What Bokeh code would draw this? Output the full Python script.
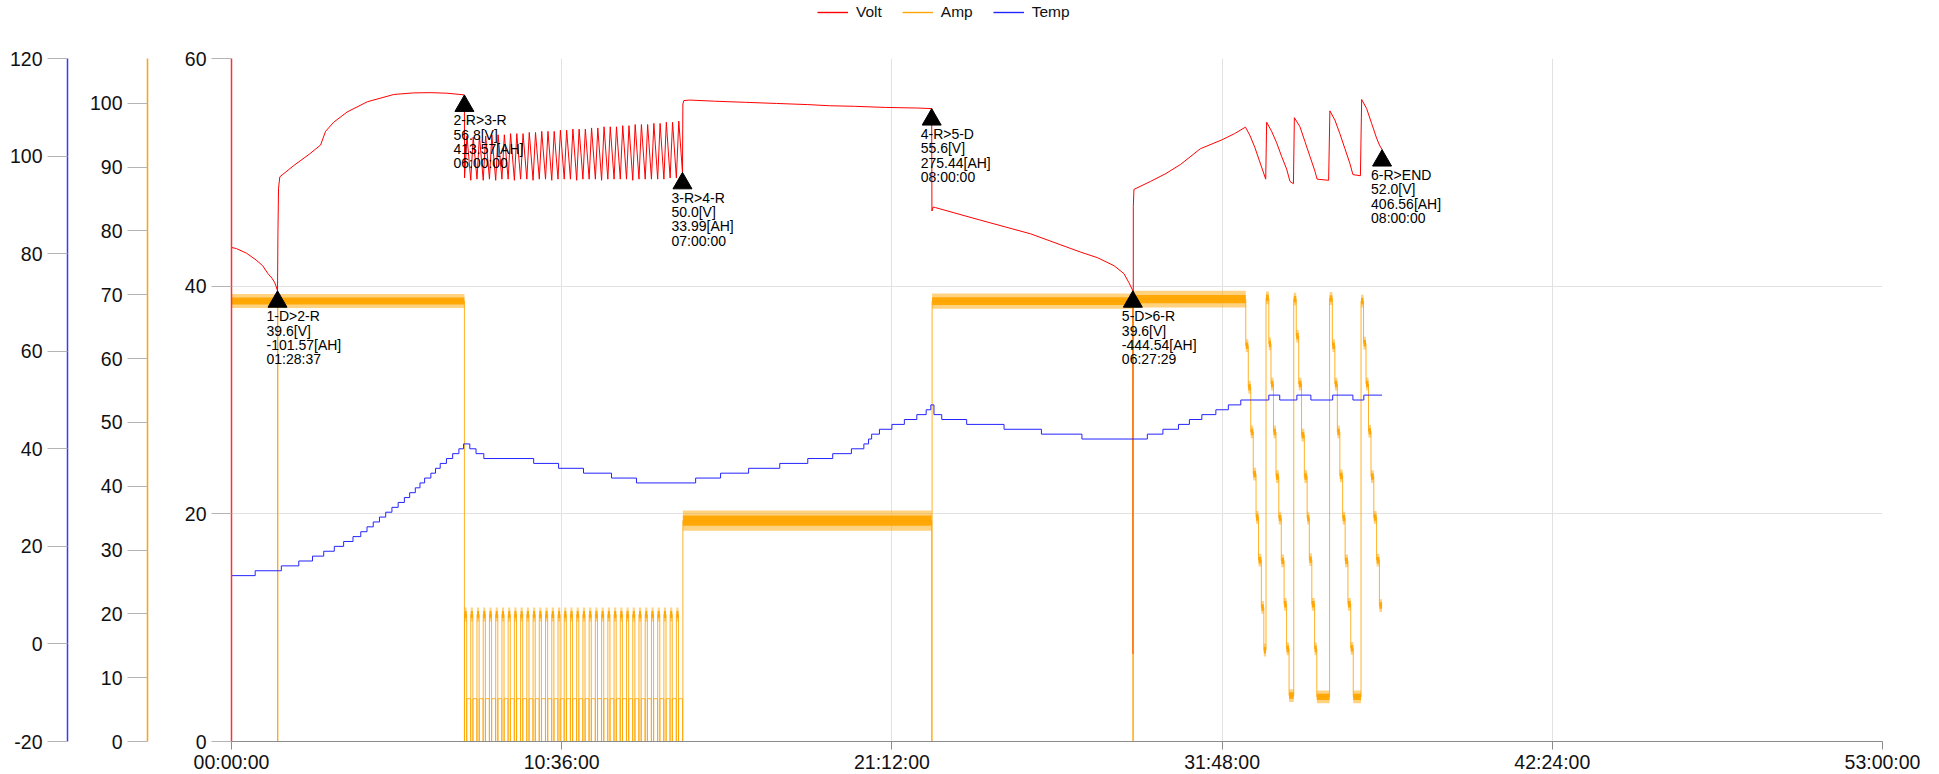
import numpy as np
from bokeh.plotting import figure
from bokeh.layouts import column
from bokeh.models import (Range1d, LinearAxis, FixedTicker, CustomJSTickFormatter,
                          Legend, LegendItem)
from bokeh.embed import file_html
from bokeh.resources import INLINE
from bokeh.core.properties import value

# ---------------- data ----------------
step_names = ["1-D>2-R", "2-R>3-R", "3-R>4-R", "4-R>5-D", "5-D>6-R", "6-R>END"]
step_volts = [39.6, 56.8, 50.0, 55.6, 39.6, 52.0]
step_ah = [-101.57, 413.57, 33.99, 275.44, -444.54, 406.56]
step_durations = ["01:28:37", "06:00:00", "07:00:00", "08:00:00", "06:27:29", "08:00:00"]

x_ticks_h = [0, 10.6, 21.2, 31.8, 42.4, 53.0]
volt_ticks = [0, 20, 40, 60]
amp_ticks = [0, 10, 20, 30, 40, 50, 60, 70, 80, 90, 100]
temp_ticks = [-20, 0, 20, 40, 60, 80, 100, 120]

series_names = ["Volt", "Amp", "Temp"]
series_colors = ["#ff0000", "#ffa500", "#2424ff"]

# Volt: discharge 1 + charge 2 (hours, volts)
volt_t_a = [0.00, 0.16, 0.48, 0.79, 1.00, 1.17, 1.30, 1.38, 1.43, 1.477,
            1.49, 1.51, 1.55, 2.00, 2.50, 2.86, 3.02, 3.28, 3.71, 4.36, 5.21, 5.85, 6.40, 6.92, 7.30, 7.477]
volt_v_a = [43.4, 43.3, 42.9, 42.3, 41.8, 41.1, 40.7, 40.35, 40.0, 39.6,
            44.5, 48.6, 49.6, 50.6, 51.6, 52.4, 53.6, 54.4, 55.3, 56.2, 56.84, 56.98, 57.0, 56.95, 56.85, 56.8]

# Pulse step 3: 35 cycles of 12 min
pulse_period_h = 0.2
pulse_high_h = 0.072
pulse_peak_v = [53.2, 53.1, 53.2, 53.2, 53.3, 53.3, 53.3, 53.4, 53.4, 53.4, 53.5, 53.5, 53.6, 53.6, 53.6,
                53.7, 53.7, 53.8, 53.8, 53.8, 53.9, 53.9, 54.0, 54.0, 54.0, 54.1, 54.1, 54.2, 54.2, 54.2,
                54.3, 54.3, 54.4, 54.4, 54.5]
pulse_trough_v = [49.5, 49.3, 49.4, 49.3, 49.4, 49.3, 49.4, 49.4, 49.3, 49.4, 49.4, 49.3, 49.4, 49.4, 49.3,
                  49.4, 49.4, 49.4, 49.3, 49.4, 49.4, 49.4, 49.3, 49.4, 49.4, 49.4, 49.4, 49.3, 49.4, 49.4,
                  49.4, 49.4, 49.4, 49.5, 49.5]
pulse_high_a = 19.9
pulse_low_a = 6.7

# Volt: steps 4..6
volt_t_b = [14.49, 14.52, 14.70, 15.50, 16.50, 17.50, 18.50, 19.20, 20.00, 21.00, 22.00, 22.477,
            22.485, 22.52, 22.60, 24.04, 25.65, 27.25, 27.80, 28.33, 28.65, 28.81, 28.935,
            28.94, 28.95, 28.97, 29.50, 30.00, 30.47, 31.10, 31.80, 32.20, 32.55,
            32.70, 32.85, 33.00, 33.10, 33.20, 33.23,
            33.39, 33.55, 33.71, 33.87, 33.98, 34.09, 34.12,
            34.30, 34.46, 34.62, 34.78, 34.85, 35.22, 35.26,
            35.42, 35.58, 35.74, 35.90, 36.00, 36.24, 36.28,
            36.44, 36.60, 36.76, 36.85, 36.935]
volt_v_b = [56.0, 56.3, 56.35, 56.25, 56.15, 56.05, 55.95, 55.85, 55.8, 55.7, 55.65, 55.6,
            46.6, 46.95, 46.9, 45.8, 44.6, 43.0, 42.5, 41.8, 41.1, 40.3, 39.6,
            7.7, 47.0, 48.5, 49.2, 49.9, 50.7, 52.07, 52.86, 53.4, 53.97,
            53.2, 52.2, 51.0, 50.2, 49.4, 54.4,
            53.6, 52.6, 51.4, 50.3, 49.2, 49.0, 54.8,
            54.0, 52.7, 51.4, 50.1, 49.4, 49.3, 55.4,
            54.6, 53.4, 52.1, 50.8, 49.8, 49.7, 56.4,
            55.6, 54.3, 53.0, 52.4, 52.0]

# Amp (step function, level holds until next point)
amp_t_a = [0.0, 1.477, 1.49, 7.477]
amp_v_a = [69.0, 0.0, 69.0, 0.0]
amp_t_b = [14.477, 14.49, 22.477, 22.49, 28.935, 28.95]
amp_v_b = [0.0, 34.6, 0.0, 69.0, 0.0, 69.3]
# staircase current at the end of step 6
sc_t = [32.56, 32.64, 32.72, 32.80, 32.89, 32.97, 33.06, 33.14, 33.21,
        33.30, 33.37, 33.45, 33.53, 33.62, 33.70, 33.79, 33.87, 33.95, 34.10,
        34.18, 34.26, 34.35, 34.44, 34.53, 34.60, 34.68, 34.77, 34.84, 35.25,
        35.34, 35.42, 35.50, 35.58, 35.67, 35.75, 35.84, 35.93, 36.01, 36.26,
        36.34, 36.42, 36.50, 36.58, 36.67, 36.76, 36.85, 36.935]
sc_a = [62.0, 55.5, 48.5, 41.9, 35.1, 28.4, 21.0, 14.3, 69.5,
        62.3, 56.0, 48.5, 41.5, 35.0, 28.3, 21.5, 14.5, 7.2, 69.3,
        63.5, 56.0, 48.0, 41.5, 35.0, 28.5, 21.5, 14.5, 7.0, 69.4,
        62.0, 56.0, 48.5, 41.6, 35.0, 28.3, 21.5, 14.6, 7.0, 69.0,
        62.4, 56.0, 48.6, 41.5, 35.1, 28.4, 21.3, 21.3]
# noisy current plateaus (start, end, low, high)
band_t0 = [0.0, 1.49, 14.49, 22.49, 28.95]
band_t1 = [1.477, 7.477, 22.477, 28.935, 32.56]
band_lo = [67.9, 67.9, 33.0, 67.8, 68.0]
band_hi = [70.1, 70.1, 36.2, 70.2, 70.6]

# Temp (step function)
temp_t = [0.0, 0.76, 1.6, 2.16, 2.6, 2.96, 3.3, 3.6, 3.9, 4.15, 4.35, 4.55, 4.75, 4.95, 5.15, 5.35,
          5.55, 5.72, 5.9, 6.05, 6.2, 6.4, 6.55, 6.7, 6.9, 7.1, 7.3, 7.45, 7.65, 7.85, 8.1, 9.7,
          10.5, 11.3, 12.2, 13.0, 14.9, 15.7, 16.6, 17.6, 18.5, 19.3, 19.9, 20.3, 20.45, 20.55,
          20.8, 21.2, 21.6, 22.0, 22.3, 22.45, 22.55, 22.8, 23.6, 24.8, 26.0, 27.3, 29.4, 29.9,
          30.4, 30.75, 31.15, 31.6, 32.0, 32.4, 33.3, 33.65, 34.2, 34.65, 35.35, 36.0, 36.35, 36.935]
temp_v = [14, 15, 16, 17, 18, 19, 20, 21, 22, 23, 24, 25, 26, 27, 28, 29,
          30, 31, 32, 33, 34, 35, 36, 37, 38, 39, 40, 41, 40, 39, 38, 37,
          36, 35, 34, 33, 34, 35, 36, 37, 38, 39, 40, 41, 42, 43,
          44, 45, 46, 47, 48, 49, 47, 46, 45, 44, 43, 42, 43, 44,
          45, 46, 47, 48, 49, 50, 51, 50, 51, 50, 51, 50, 51, 51]

# ---------------- derived series ----------------
def hms_to_h(s):
    h, m, sec = [int(v) for v in s.split(":")]
    return h + m / 60 + sec / 3600

step_end_t = list(np.cumsum([hms_to_h(d) for d in step_durations]))
T2, T3 = step_end_t[1], step_end_t[2]

pulse_t, pulse_v, pa_t, pa_v = [], [], [], []
q_l, q_r, q_b, q_t = list(band_t0), list(band_t1), list(band_lo), list(band_hi)
for k, (pk, tr) in enumerate(zip(pulse_peak_v, pulse_trough_v)):
    s = T2 + k * pulse_period_h
    pulse_t += [s + 0.004, s + pulse_high_h + 0.01]
    pulse_v += [tr, pk]
    pa_t += [s, s + 0.004, s + pulse_high_h, s + pulse_high_h + 0.004]
    pa_v += [0.0, pulse_high_a, 0.0, pulse_low_a]
    q_l.append(s + 0.004); q_r.append(s + pulse_high_h)
    q_b.append(pulse_high_a - 1.1); q_t.append(pulse_high_a + 1.1)
pulse_t.append(T3)
pulse_v.append(step_volts[2])
for i in range(len(sc_t) - 1):
    q_l.append(sc_t[i]); q_r.append(sc_t[i + 1])
    q_b.append(sc_a[i] - 1.0); q_t.append(sc_a[i] + 1.0)
q_mid = [(b + t) / 2 for b, t in zip(q_b, q_t)]
q_half = [(t - b) / 4 for b, t in zip(q_b, q_t)]

volt_t = volt_t_a + pulse_t + volt_t_b
volt_v = volt_v_a + pulse_v + volt_v_b
amp_t = amp_t_a + pa_t + amp_t_b + sc_t
amp_v = amp_v_a + pa_v + amp_v_b + sc_a

# ---------------- layout constants ----------------
FONT = "Liberation Sans"
FRAME_W, FRAME_H = 1651, 683
LEFT, TOP, RIGHT = 231, 58, 49
LEG_H = 24
VOLT_MAX = 60
TOTAL_W = LEFT + FRAME_W + RIGHT

# ---------------- legend strip (series drawn out of view, only the legend shows) ----------------
leg_fig = figure(width=TOTAL_W, height=LEG_H, output_backend="svg", toolbar_location=None,
                 x_axis_type=None, y_axis_type=None, x_range=Range1d(-20, -10), y_range=Range1d(0, 1),
                 min_border=0)
leg_fig.outline_line_color = None
leg_fig.background_fill_color = "white"
leg_fig.border_fill_color = "white"
leg_renderers = [leg_fig.line(volt_t, volt_v, line_color=series_colors[0], line_width=1.4),
                 leg_fig.line(amp_t, amp_v, line_color=series_colors[1], line_width=1.4),
                 leg_fig.line(temp_t, temp_v, line_color=series_colors[2], line_width=1.4)]
legend = Legend(items=[LegendItem(label=n, renderers=[r]) for n, r in zip(series_names, leg_renderers)],
                orientation="horizontal", location=(586, 0),
                padding=0, margin=0, spacing=20, label_standoff=8,
                glyph_width=31, glyph_height=LEG_H, label_height=LEG_H,
                label_text_font=FONT, label_text_font_size="15.5px", label_text_color="#111111",
                border_line_color=None, background_fill_alpha=0)
leg_fig.add_layout(legend)

# ---------------- main figure ----------------
p = figure(frame_width=FRAME_W, frame_height=FRAME_H, output_backend="svg", toolbar_location=None,
           x_range=Range1d(0, 53), y_range=Range1d(0, VOLT_MAX),
           min_border_left=LEFT, min_border_right=RIGHT, min_border_top=TOP - LEG_H, min_border_bottom=0)
p.extra_y_ranges = {"amp": Range1d(0, 107), "temp": Range1d(-20, 120)}
p.outline_line_color = None
p.background_fill_color = "white"
p.border_fill_color = "white"

xa = p.xaxis[0]
xa.ticker = FixedTicker(ticks=x_ticks_h)
xa.formatter = CustomJSTickFormatter(code="""
const s = Math.round(tick * 3600);
const pad = (n) => String(n).padStart(2, '0');
return pad(Math.floor(s / 3600)) + ':' + pad(Math.floor((s % 3600) / 60)) + ':' + pad(s % 60);
""")
xa.major_tick_in = 0
xa.major_tick_out = 8
xa.minor_tick_in = 0
xa.minor_tick_out = 0
xa.axis_line_color = "#8c8c8c"
xa.major_tick_line_color = "#8c8c8c"
xa.major_label_standoff = 1
xa.major_label_text_font = FONT
xa.major_label_text_font_size = "19.5px"
xa.major_label_text_color = "#111111"

p.xgrid.ticker = FixedTicker(ticks=x_ticks_h)
p.ygrid.ticker = FixedTicker(ticks=volt_ticks)
p.xgrid.grid_line_color = "#e2e2e2"
p.ygrid.grid_line_color = "#e2e2e2"

va = p.yaxis[0]
va.ticker = FixedTicker(ticks=volt_ticks)
amp_axis = LinearAxis(y_range_name="amp", ticker=FixedTicker(ticks=amp_ticks))
temp_axis = LinearAxis(y_range_name="temp", ticker=FixedTicker(ticks=temp_ticks))
p.add_layout(amp_axis, "left")
p.add_layout(temp_axis, "left")

plain_fmt = "return String(tick);"
for ax, col in ((va, "#ff3030"), (amp_axis, "#ffa500"), (temp_axis, "#3a3aff")):
    ax.formatter = CustomJSTickFormatter(code=plain_fmt)
    ax.axis_line_color = col
    ax.axis_line_width = 1.5
    ax.major_tick_in = 0
    ax.major_tick_out = 20
    ax.minor_tick_in = 0
    ax.minor_tick_out = 0
    ax.major_tick_line_color = "#b4b4b4"
    ax.major_label_standoff = 5
    ax.major_label_text_font = FONT
    ax.major_label_text_font_size = "19.5px"
    ax.major_label_text_color = "#111111"
# invisible spacer labels to place the stacked axes
va.axis_label = "\u00a0"
va.axis_label_text_font_size = "1px"
va.axis_label_standoff = 30
amp_axis.axis_label = "\u00a0"
amp_axis.axis_label_text_font_size = "1px"
amp_axis.axis_label_standoff = 15

# series
p.line(volt_t, volt_v, line_color=series_colors[0], line_width=1.0)
p.quad(left=q_l, right=q_r, bottom=q_b, top=q_t, y_range_name="amp",
       fill_color=series_colors[1], fill_alpha=0.5, line_color=None)
p.quad(left=q_l, right=q_r, bottom=[m - h for m, h in zip(q_mid, q_half)],
       top=[m + h for m, h in zip(q_mid, q_half)], y_range_name="amp",
       fill_color=series_colors[1], fill_alpha=0.95, line_color=None)
p.step(amp_t, amp_v, mode="after", y_range_name="amp", line_color=series_colors[1],
       line_width=1, line_alpha=0.85)
p.step(temp_t, temp_v, mode="after", y_range_name="temp", line_color=series_colors[2], line_width=1)

# markers + labels
px_per_volt = FRAME_H / VOLT_MAX
p.scatter(x=step_end_t, y=[v - 11 / px_per_volt for v in step_volts], marker="triangle",
          size=19, fill_color="black", line_color="black")
label_lines = [step_names,
               ["%.1f[V]" % v for v in step_volts],
               ["%.2f[AH]" % a for a in step_ah],
               step_durations]
for k, lines in enumerate(label_lines):
    p.text(x=step_end_t, y=step_volts, text=lines, x_offset=-11, y_offset=17.5 + 14.3 * k,
           text_font=value(FONT), text_font_size="14px", text_baseline="top", text_align="left",
           text_color="black")

layout = column(leg_fig, p, spacing=0)
open("out.html", "w").write(file_html(layout, INLINE))
